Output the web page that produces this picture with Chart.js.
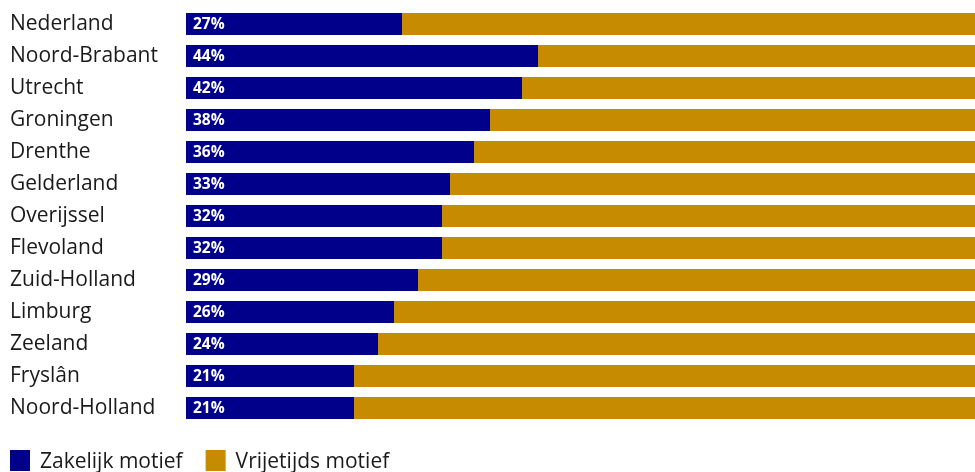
<!DOCTYPE html>
<html>
<head>
<meta charset="utf-8">
<script src="https://cdn.jsdelivr.net/npm/chart.js@4/dist/chart.umd.min.js"></script>
<style>
  html, body { margin: 0; padding: 0; background: #ffffff; overflow: hidden; }
  #wrap { width: 986px; height: 472px; position: relative; }
</style>
</head>
<body>
<div id="wrap"><canvas id="c"></canvas></div>
<script>
// Share of trips per motive, per province
const provinces = ['Nederland', 'Noord-Brabant', 'Utrecht', 'Groningen', 'Drenthe', 'Gelderland',
  'Overijssel', 'Flevoland', 'Zuid-Holland', 'Limburg', 'Zeeland', 'Fryslân', 'Noord-Holland'];
const zakelijk = [27, 44, 42, 38, 36, 33, 32, 32, 29, 26, 24, 21, 21];
const vrijetijd = [73, 56, 58, 62, 64, 67, 68, 68, 71, 74, 76, 79, 79];
const seriesNames = ['Zakelijk motief', 'Vrijetijds motief'];

const FONT = 'Open Sans';
const TEXT = '#1a1a1a';
const BLUE = '#00008b';
const GOLD = '#c68b00';

// Writes the percentage inside each business-motive bar
const valueLabels = {
  id: 'valueLabels',
  afterDatasetsDraw(chart) {
    const ctx = chart.ctx;
    const meta = chart.getDatasetMeta(0);
    ctx.save();
    ctx.fillStyle = '#ffffff';
    ctx.font = `bold 15.5px "${FONT}"`;
    ctx.textAlign = 'left';
    ctx.textBaseline = 'middle';
    meta.data.forEach((bar, i) => {
      ctx.fillText(zakelijk[i] + '%', bar.base + 7, bar.y + 1);
    });
    ctx.restore();
  }
};

// Legend row under the bars: square swatch followed by the series name
const bottomLegend = {
  id: 'bottomLegend',
  afterDraw(chart) {
    const ctx = chart.ctx;
    const y = chart.chartArea.bottom + 26;
    let x = 10;
    ctx.save();
    ctx.font = `21px "${FONT}"`;
    ctx.textBaseline = 'middle';
    ctx.textAlign = 'left';
    chart.data.datasets.forEach(ds => {
      ctx.fillStyle = ds.backgroundColor;
      ctx.fillRect(x, y, 20, 21);
      ctx.fillStyle = TEXT;
      ctx.fillText(ds.label, x + 30, y + 12.5);
      x += 30 + ctx.measureText(ds.label).width + 23;
    });
    ctx.restore();
  }
};

new Chart(document.getElementById('c'), {
  type: 'bar',
  data: {
    labels: provinces,
    datasets: [
      { label: seriesNames[0], data: zakelijk, backgroundColor: BLUE },
      { label: seriesNames[1], data: vrijetijd, backgroundColor: GOLD }
    ]
  },
  options: {
    indexAxis: 'y',
    responsive: true,
    maintainAspectRatio: false,
    animation: false,
    layout: { padding: { left: 10, top: 8, right: 0, bottom: 48 } },
    datasets: { bar: { categoryPercentage: 1, barPercentage: 0.6875, borderWidth: 0 } },
    scales: {
      x: {
        stacked: true, min: 0, max: 100, display: false
      },
      y: {
        stacked: true,
        grid: { display: false, drawTicks: false },
        border: { display: false },
        ticks: {
          crossAlign: 'far',
          padding: 0,
          color: TEXT,
          font: { family: FONT, size: 21 }
        },
        afterFit(scale) {
          scale.width = 176;
          scale.paddingTop = 0;
          scale.paddingBottom = 0;
        }
      }
    },
    plugins: {
      tooltip: { enabled: false },
      legend: { display: false }
    }
  },
  plugins: [valueLabels, bottomLegend]
});
</script>
</body>
</html>
